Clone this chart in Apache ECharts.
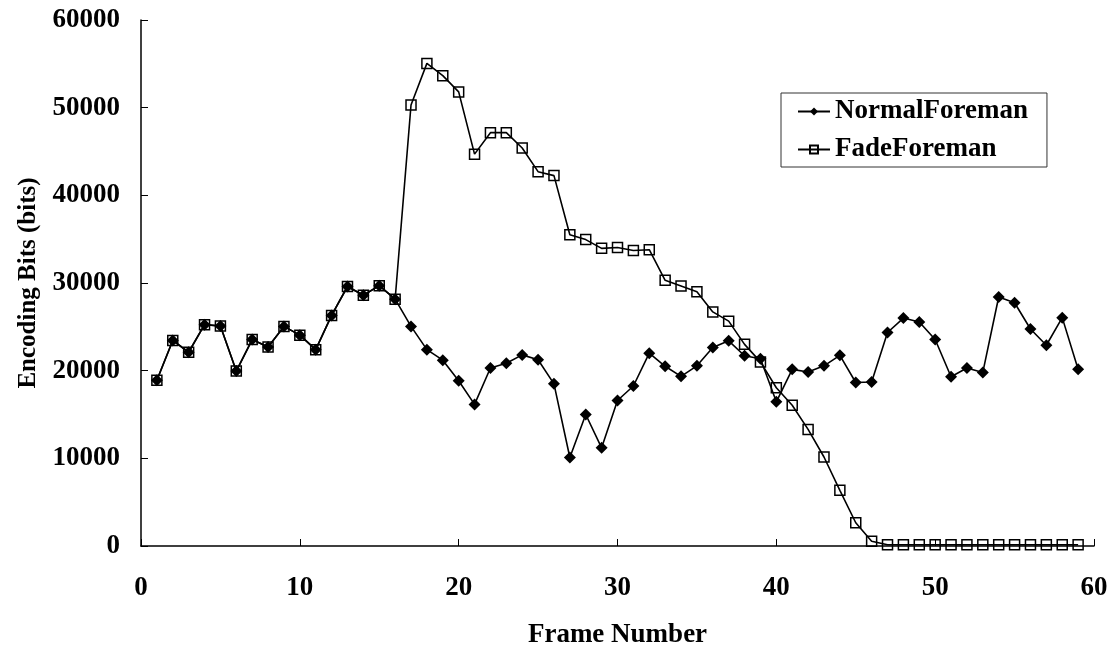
<!DOCTYPE html>
<html>
<head>
<meta charset="utf-8">
<title>Encoding Bits per Frame</title>
<script src="https://cdn.jsdelivr.net/npm/echarts@6/dist/echarts.min.js"></script>
<style>
  html, body { margin: 0; padding: 0; background: #ffffff; }
  #chart { width: 1120px; height: 648px; }
</style>
</head>
<body>
<div id="chart"></div>
<script>
// Frame indices (x values)
const frames = [
  1, 2, 3, 4, 5, 6, 7, 8, 9, 10,
  11, 12, 13, 14, 15, 16, 17, 18, 19, 20,
  21, 22, 23, 24, 25, 26, 27, 28, 29, 30,
  31, 32, 33, 34, 35, 36, 37, 38, 39, 40,
  41, 42, 43, 44, 45, 46, 47, 48, 49, 50,
  51, 52, 53, 54, 55, 56, 57, 58, 59
];

// Bits spent per frame, normal sequence
const normalForeman = [
  18900, 23450, 22100, 25250, 25100, 19950, 23550, 22700, 25050, 24050,
  22400, 26300, 29600, 28600, 29700, 28150, 25050, 22400, 21200, 18850,
  16150, 20300, 20850, 21800, 21250, 18500, 10100, 15000, 11200, 16600,
  18250, 22000, 20500, 19350, 20550, 22650, 23400, 21700, 21350, 16450,
  20150, 19850, 20550, 21750, 18650, 18700, 24350, 26000, 25550, 23550,
  19300, 20300, 19800, 28400, 27750, 24750, 22900, 26050, 20150
];

// Bits spent per frame, fading sequence
const fadeForeman = [
  18900, 23450, 22100, 25250, 25100, 19950, 23550, 22700, 25050, 24050,
  22400, 26300, 29600, 28600, 29700, 28150, 50300, 55050, 53650, 51800,
  44700, 47150, 47150, 45400, 42700, 42250, 35500, 34950, 33950, 34050,
  33700, 33800, 30300, 29650, 29000, 26700, 25650, 23000, 21000, 18050,
  16050, 13300, 10150, 6350, 2650, 550, 150, 150, 150, 150,
  150, 150, 150, 150, 150, 150, 150, 150, 150
];

const seriesNames = ['NormalForeman', 'FadeForeman'];
const xAxisTitle = 'Frame Number';
const yAxisTitle = 'Encoding Bits (bits)';

const FONT = '"Liberation Serif", "Times New Roman", serif';

function pairs(values) {
  return values.map((v, i) => [frames[i], v]);
}

const chart = echarts.init(document.getElementById('chart'), null, { renderer: 'canvas' });

const axisText = {
  color: '#000',
  fontFamily: FONT,
  fontWeight: 'bold',
  fontSize: 27
};

// plain integers, no thousands separator
const plain = (v) => String(v);

chart.setOption({
  backgroundColor: '#ffffff',
  animation: false,
  grid: {
    left: 141, right: 26, top: 20, bottom: 102,
    containLabel: false,
    outerBoundsMode: 'none'
  },
  legend: {
    orient: 'vertical',
    left: 781,
    top: 93,
    data: seriesNames,
    itemWidth: 32,
    itemHeight: 10,
    itemGap: 11,
    padding: [5, 19, 4, 16],
    borderColor: '#333',
    borderWidth: 1,
    backgroundColor: '#fff',
    textStyle: {
      color: '#000',
      fontFamily: FONT,
      fontWeight: 'bold',
      fontSize: 27,
      lineHeight: 27
    }
  },
  xAxis: {
    type: 'value',
    min: 0,
    max: 60,
    interval: 10,
    name: xAxisTitle,
    nameLocation: 'middle',
    nameGap: 76,
    nameTextStyle: axisText,
    axisLine: { show: true, lineStyle: { color: '#000', width: 1.5 } },
    axisTick: { show: true, inside: true, length: 7, lineStyle: { color: '#000', width: 1 } },
    axisLabel: Object.assign({ margin: 29, formatter: plain }, axisText),
    splitLine: { show: false }
  },
  yAxis: {
    type: 'value',
    min: 0,
    max: 60000,
    interval: 10000,
    name: yAxisTitle,
    nameLocation: 'middle',
    nameRotate: 90,
    nameGap: 100,
    nameTextStyle: Object.assign({}, axisText, { fontSize: 25 }),
    axisLine: { show: true, lineStyle: { color: '#000', width: 1.5 } },
    axisTick: { show: true, inside: true, length: 7, lineStyle: { color: '#000', width: 1 } },
    axisLabel: Object.assign({ margin: 21, formatter: plain }, axisText),
    splitLine: { show: false }
  },
  series: [
    {
      name: seriesNames[0],
      type: 'line',
      data: pairs(normalForeman),
      symbol: 'diamond',
      symbolSize: 12,
      showAllSymbol: true,
      lineStyle: { color: '#000', width: 1.6 },
      itemStyle: { color: '#000', borderColor: '#000', borderWidth: 0 },
      z: 2
    },
    {
      name: seriesNames[1],
      type: 'line',
      data: pairs(fadeForeman),
      symbol: 'rect',
      symbolSize: 10,
      showAllSymbol: true,
      lineStyle: { color: '#000', width: 1.6 },
      itemStyle: { color: 'rgba(255,255,255,0)', borderColor: '#000', borderWidth: 1.5 },
      z: 3
    }
  ]
});
</script>
</body>
</html>
